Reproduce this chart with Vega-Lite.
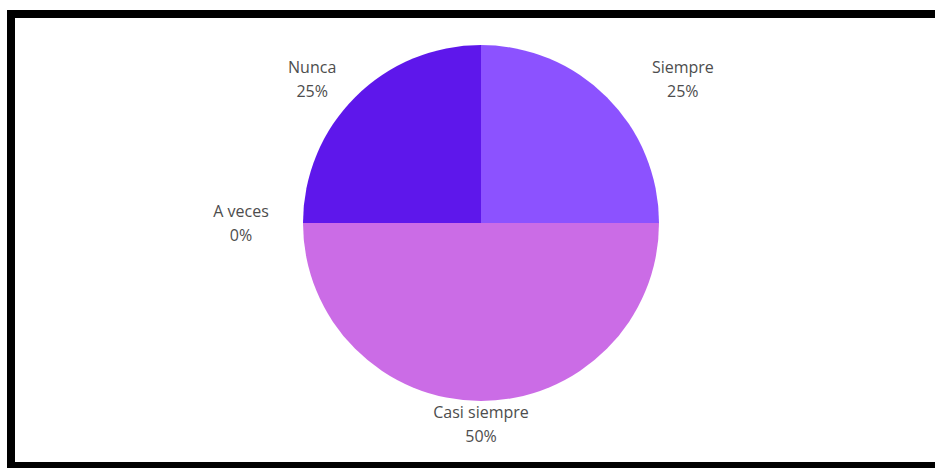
{
  "$schema": "https://vega.github.io/schema/vega-lite/v6.json",
  "width": 940,
  "height": 452,
  "autosize": {"type": "none"},
  "padding": {"left": 11, "top": 14, "right": -16, "bottom": 2},
  "background": "white",
  "view": {"stroke": "black", "strokeWidth": 8, "fill": "white"},
  "config": {
    "font": "Open Sans"
  },
  "data": {
    "values": [
      {"categoria": "Siempre", "porcentaje": 25, "orden": 1, "etiqueta": "Siempre\n25%"},
      {"categoria": "Casi siempre", "porcentaje": 50, "orden": 2, "etiqueta": "Casi siempre\n50%"},
      {"categoria": "A veces", "porcentaje": 0, "orden": 3, "etiqueta": "A veces\n0%"},
      {"categoria": "Nunca", "porcentaje": 25, "orden": 4, "etiqueta": "Nunca\n25%"}
    ]
  },
  "encoding": {
    "theta": {"field": "porcentaje", "type": "quantitative", "stack": true},
    "order": {"field": "orden", "type": "quantitative"}
  },
  "layer": [
    {
      "mark": {"type": "arc", "outerRadius": 178, "yOffset": -17, "stroke": null},
      "encoding": {
        "color": {
          "field": "categoria",
          "type": "nominal",
          "scale": {
            "domain": ["Siempre", "Casi siempre", "A veces", "Nunca"],
            "range": ["#8c52ff", "#cb6ce6", "#ff66c4", "#5e17eb"]
          },
          "legend": null
        }
      }
    },
    {
      "mark": {"type": "text", "radius": 202, "dx": 59, "dy": -12, "yOffset": -17, "fontSize": 16, "lineHeight": 24, "lineBreak": "\n", "color": "#4d4d4d", "align": "center", "baseline": "middle"},
      "encoding": {
        "text": {"condition": {"test": "datum.categoria === 'Siempre'", "field": "etiqueta"}, "value": ""}
      }
    },
    {
      "mark": {"type": "text", "radius": 202, "dx": -26, "dy": -12, "yOffset": -17, "fontSize": 16, "lineHeight": 24, "lineBreak": "\n", "color": "#4d4d4d", "align": "center", "baseline": "middle"},
      "encoding": {
        "text": {"condition": {"test": "datum.categoria === 'Nunca'", "field": "etiqueta"}, "value": ""}
      }
    },
    {
      "mark": {"type": "text", "radius": 202, "dx": -38, "dy": -11, "yOffset": -17, "fontSize": 16, "lineHeight": 24, "lineBreak": "\n", "color": "#4d4d4d", "align": "center", "baseline": "middle"},
      "encoding": {
        "text": {"condition": {"test": "datum.categoria === 'A veces'", "field": "etiqueta"}, "value": ""}
      }
    },
    {
      "mark": {"type": "text", "radius": 202, "dy": -12, "yOffset": -17, "fontSize": 16, "lineHeight": 24, "lineBreak": "\n", "color": "#4d4d4d", "align": "center", "baseline": "middle"},
      "encoding": {
        "text": {"condition": {"test": "datum.categoria === 'Casi siempre'", "field": "etiqueta"}, "value": ""}
      }
    }
  ]
}
